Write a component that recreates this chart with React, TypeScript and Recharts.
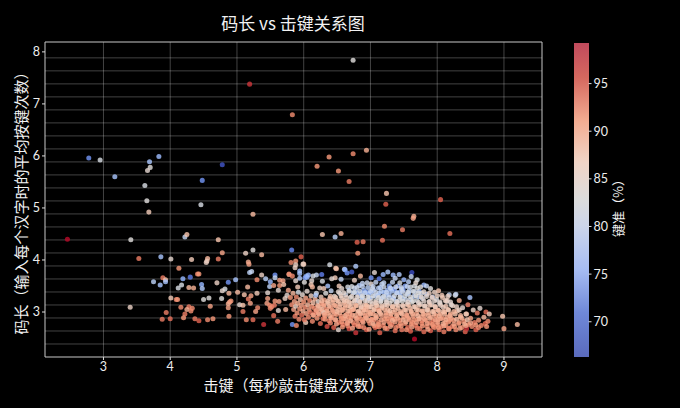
import { ScatterChart, Scatter, XAxis, YAxis, ZAxis, CartesianGrid, ReferenceArea, ReferenceLine, Cell, BarChart, Bar } from "recharts";

type Pt = [number, number, number]; // speed, code length, accuracy

const xTicks = [3, 4, 5, 6, 7, 8, 9];
const yTicks = [3, 4, 5, 6, 7, 8];
const hGrid = [2.385, 2.635, 2.885, 3.135, 3.385, 3.635, 3.885, 4.135, 4.385, 4.635, 4.885, 5.135, 5.385, 5.635, 5.885, 6.135, 6.385, 6.635, 6.885, 7.135, 7.385, 7.635, 7.885];
const accTicks = [70, 75, 80, 85, 90, 95];

const outliers: Pt[] = [
  [2.78, 5.96, 72], [2.95, 5.92, 82], [3.17, 5.6, 77], [3.83, 5.99, 76], [3.69, 5.89, 77], [3.7, 5.78, 83], [3.66, 5.72, 84], [3.62, 5.43, 82],
  [3.65, 5.14, 83], [3.68, 4.92, 86], [4.48, 5.53, 72], [4.46, 5.06, 82], [4.78, 5.83, 67], [5.19, 7.38, 97], [5.83, 6.79, 92], [5.24, 4.88, 88],
  [6.74, 7.84, 83], [6.94, 6.11, 89], [6.74, 6.04, 92], [6.38, 5.98, 91], [6.2, 5.8, 91], [6.52, 5.71, 91], [6.68, 5.51, 93], [7.24, 5.28, 87],
  [7.23, 5.07, 95], [8.05, 5.16, 95], [7.65, 4.84, 89], [7.64, 4.8, 90], [7.21, 4.65, 92], [7.48, 4.58, 93], [6.28, 4.49, 87], [6.56, 4.51, 89],
  [6.47, 4.44, 79], [6.8, 4.34, 95], [6.89, 4.35, 93], [7.18, 4.38, 94], [6.81, 4.13, 91], [8.19, 4.51, 94], [2.46, 4.4, 99], [3.41, 4.39, 83],
  [3.4, 3.09, 85],
];

const leftCloud: Pt[] = [
  [4.22, 4.44, 80], [4.25, 4.49, 87], [4.72, 4.39, 87], [3.53, 4.03, 93], [3.86, 4.06, 77], [4.01, 4.02, 84], [4.32, 4.01, 86], [4.13, 3.84, 91],
  [4.56, 4.03, 88], [4.55, 3.98, 86], [4.54, 3.95, 85], [4.72, 4.02, 93], [4.78, 4.14, 90], [5.13, 4.13, 85], [5.24, 4.19, 83], [5.37, 4.1, 88],
  [5.17, 3.96, 89], [5.18, 3.92, 90], [5.19, 3.76, 79], [5.22, 3.78, 80], [5.37, 3.71, 85], [3.89, 3.66, 93], [3.93, 3.62, 87], [3.75, 3.58, 79],
  [3.85, 3.52, 77], [3.93, 3.58, 77], [4.19, 3.64, 75], [4.3, 3.67, 70], [4.41, 3.73, 92], [4.43, 3.73, 91], [4.47, 3.53, 75], [4.48, 3.45, 78],
  [4.17, 3.52, 82], [4.12, 3.46, 82], [4.28, 3.47, 88], [4.35, 3.46, 89], [4.7, 3.56, 85], [4.87, 3.57, 72], [4.98, 3.62, 77], [4.82, 3.44, 82],
  [4.78, 3.41, 84], [4.88, 3.36, 88], [5.01, 3.38, 88], [4.01, 3.27, 86], [4.09, 3.24, 92], [4.11, 3.24, 91], [4.5, 3.24, 83], [4.58, 3.27, 83],
  [4.77, 3.26, 83], [4.16, 3.09, 92], [4.28, 3.1, 93], [4.33, 3.07, 92], [4.31, 3.02, 92], [4.25, 3.05, 89], [4.6, 3.11, 90], [4.87, 3.08, 90],
  [4.89, 3.19, 90], [4.87, 3.16, 89], [4.91, 3.21, 91], [5.04, 3.14, 84], [5.09, 3.13, 87], [3.94, 2.99, 93], [4.22, 2.96, 93], [4.2, 2.89, 91],
  [3.88, 2.86, 93], [4.0, 2.87, 94], [4.37, 2.87, 93], [4.43, 2.83, 95], [4.56, 2.85, 92], [4.64, 2.87, 91], [4.88, 2.92, 91], [5.09, 3.01, 93],
  [5.14, 2.85, 92], [5.24, 2.85, 94], [5.4, 2.76, 97], [5.55, 2.93, 94], [5.61, 2.82, 93], [5.62, 3.03, 84], [5.73, 3.05, 88], [5.31, 3.08, 92],
  [5.28, 3.01, 90], [5.2, 3.17, 90], [5.17, 3.25, 93], [5.21, 3.31, 90], [5.11, 3.33, 87], [5.16, 3.48, 88], [5.3, 3.62, 92], [5.3, 3.36, 86],
  [5.46, 3.37, 84], [5.46, 3.26, 90], [5.45, 3.17, 90], [5.49, 3.13, 92], [5.52, 3.1, 92], [5.56, 3.13, 93], [5.5, 3.07, 92], [5.43, 3.64, 79],
  [5.5, 3.58, 76], [5.49, 3.49, 79], [5.57, 3.71, 72], [5.57, 3.66, 80], [5.55, 3.51, 90], [5.62, 3.42, 84], [5.64, 3.61, 90], [5.69, 3.6, 90],
  [5.64, 3.51, 91], [5.7, 3.53, 87], [5.57, 3.21, 91], [5.63, 3.2, 90], [5.72, 3.26, 85], [5.75, 3.32, 84], [5.77, 3.42, 90], [5.78, 3.72, 88],
  [5.82, 4.19, 71], [5.96, 4.06, 95], [5.81, 3.95, 92], [5.88, 3.98, 91], [6.0, 3.92, 87], [5.87, 3.85, 85], [5.88, 3.91, 85], [5.94, 3.79, 77],
  [5.94, 3.74, 77], [5.78, 3.73, 92], [5.83, 3.69, 92], [5.99, 3.92, 85], [5.91, 3.48, 86], [5.83, 2.76, 72], [5.89, 2.74, 92], [6.03, 2.8, 86],
];

const coreLeft: Pt[] = [
  [5.8, 3.28, 91], [5.82, 3.14, 92], [5.84, 3.36, 88], [5.85, 3.05, 90], [5.86, 3.2, 90], [5.87, 2.92, 93], [5.88, 3.11, 85], [5.89, 3.29, 92],
  [5.9, 2.98, 91], [5.91, 3.17, 89], [5.92, 3.38, 82], [5.93, 2.86, 92], [5.94, 3.06, 91], [5.95, 3.24, 87], [5.96, 3.13, 90], [5.97, 2.94, 94],
  [5.98, 3.33, 84], [5.99, 3.02, 89], [6.0, 3.19, 91], [6.01, 2.85, 93], [6.02, 3.09, 92], [6.03, 3.27, 90], [6.04, 2.97, 90], [6.05, 3.4, 84],
  [6.06, 3.14, 88], [6.07, 2.9, 92], [6.08, 3.05, 90], [6.09, 3.22, 92], [6.1, 2.99, 93], [6.11, 3.31, 85], [6.12, 3.11, 91], [6.13, 2.82, 92],
  [6.14, 3.18, 87], [6.15, 2.94, 90], [6.16, 3.07, 92], [6.17, 3.25, 88], [6.18, 3.0, 94], [6.19, 3.36, 82], [6.2, 2.88, 91], [6.21, 3.13, 90],
  [6.22, 3.2, 84], [6.23, 2.95, 92], [6.24, 3.06, 89], [6.25, 2.78, 94], [6.26, 3.29, 86], [6.27, 3.16, 91], [6.28, 3.01, 92], [6.29, 2.87, 93],
  [6.3, 3.11, 88], [6.31, 3.23, 90], [6.32, 2.93, 91], [6.33, 3.36, 83], [6.34, 3.05, 92], [6.35, 2.72, 96], [6.36, 3.17, 87], [6.37, 2.98, 90],
  [6.38, 2.83, 93], [6.39, 3.26, 86], [6.4, 3.09, 92], [6.41, 3.41, 80], [6.42, 2.9, 92], [6.43, 3.18, 88], [6.44, 3.01, 90], [6.45, 2.7, 95],
  [6.46, 3.3, 84], [6.47, 2.85, 93], [6.48, 3.12, 90], [6.49, 2.95, 91], [6.5, 3.22, 87], [6.51, 3.05, 88], [6.52, 2.66, 84], [6.53, 2.8, 94],
  [6.54, 3.36, 82], [6.55, 3.15, 87], [6.56, 2.92, 92], [6.57, 3.27, 85], [6.58, 3.03, 89], [6.59, 2.76, 94], [6.6, 2.87, 91], [6.61, 3.19, 88],
];

const coreMid: Pt[] = [
  [6.62, 3.08, 89], [6.63, 3.33, 81], [6.64, 2.95, 92], [6.65, 3.21, 87], [6.66, 2.8, 93], [6.67, 3.12, 88], [6.68, 2.68, 96], [6.69, 3.02, 90],
  [6.7, 3.28, 83], [6.71, 2.88, 92], [6.72, 3.17, 86], [6.73, 2.94, 90], [6.74, 3.37, 79], [6.75, 3.06, 88], [6.76, 2.75, 94], [6.77, 3.23, 84],
  [6.78, 2.6, 97], [6.79, 3.12, 87], [6.8, 2.85, 91], [6.81, 3.0, 89], [6.82, 3.31, 80], [6.83, 2.92, 92], [6.84, 3.18, 85], [6.85, 2.72, 93],
  [6.86, 3.08, 88], [6.87, 3.26, 82], [6.88, 2.82, 93], [6.89, 2.98, 89], [6.9, 3.42, 75], [6.91, 3.14, 86], [6.92, 2.88, 91], [6.93, 3.04, 88],
  [6.94, 2.66, 95], [6.95, 3.21, 84], [6.96, 2.94, 90], [6.97, 3.34, 78], [6.98, 3.1, 86], [6.99, 2.78, 92], [7.0, 3.0, 89], [7.01, 3.27, 82],
  [7.02, 2.86, 92], [7.03, 3.16, 85], [7.04, 2.96, 90], [7.05, 3.42, 76], [7.06, 3.06, 88], [7.07, 2.7, 94], [7.08, 3.22, 83], [7.09, 2.9, 91],
  [7.1, 3.12, 86], [7.11, 3.32, 79], [7.12, 2.8, 92], [7.13, 3.02, 88], [7.14, 2.6, 95], [7.15, 3.19, 84], [7.16, 2.94, 90], [7.17, 3.08, 87],
  [7.18, 3.28, 80], [7.19, 2.74, 93], [7.2, 3.38, 75], [7.21, 2.87, 91], [7.22, 3.14, 85], [7.23, 2.98, 89], [7.24, 3.23, 82], [7.25, 2.68, 94],
  [7.26, 3.05, 88], [7.27, 2.82, 92], [7.28, 3.33, 78], [7.29, 3.17, 84], [7.3, 2.92, 90], [7.31, 3.44, 74], [7.32, 2.76, 93], [7.33, 3.1, 86],
  [7.34, 3.0, 89], [7.35, 3.26, 81], [7.36, 2.86, 91], [7.37, 2.64, 94], [7.38, 3.15, 85], [7.39, 3.37, 77], [6.9, 3.06, 90], [7.05, 2.84, 93],
  [6.67, 2.9, 91], [6.72, 3.04, 90], [6.84, 2.99, 90], [6.95, 3.1, 88], [7.12, 3.04, 90], [7.27, 2.98, 90], [7.1, 2.72, 93], [7.32, 2.88, 92],
];

const coreRight: Pt[] = [
  [7.4, 2.96, 90], [7.41, 3.07, 87], [7.42, 2.73, 93], [7.43, 3.22, 82], [7.44, 2.84, 92], [7.45, 3.31, 78], [7.46, 2.98, 89], [7.47, 2.66, 93],
  [7.48, 3.13, 85], [7.49, 3.42, 73], [7.5, 2.9, 91], [7.51, 3.04, 88], [7.52, 2.78, 92], [7.53, 3.24, 81], [7.54, 2.95, 90], [7.55, 3.15, 85],
  [7.56, 2.7, 94], [7.57, 3.36, 76], [7.58, 2.85, 91], [7.59, 3.07, 87], [7.6, 2.63, 95], [7.61, 3.0, 89], [7.62, 3.19, 83], [7.63, 2.8, 92],
  [7.64, 2.92, 90], [7.65, 3.3, 78], [7.66, 2.48, 99], [7.67, 3.1, 86], [7.68, 2.74, 93], [7.69, 2.97, 90], [7.7, 3.22, 82], [7.71, 2.86, 92],
  [7.72, 3.04, 88], [7.73, 3.4, 75], [7.74, 2.68, 93], [7.75, 3.15, 84], [7.76, 2.91, 90], [7.77, 2.78, 92], [7.78, 3.26, 80], [7.79, 3.02, 88],
  [7.8, 2.62, 94], [7.81, 2.94, 90], [7.82, 3.12, 85], [7.83, 2.84, 91], [7.84, 3.34, 77], [7.85, 2.72, 92], [7.86, 3.05, 87], [7.87, 2.98, 89],
  [7.88, 3.2, 82], [7.89, 2.79, 92], [7.9, 2.64, 95], [7.91, 2.9, 90], [7.92, 3.14, 84], [7.93, 3.29, 79], [7.94, 2.82, 93], [7.95, 3.01, 88],
  [7.96, 2.7, 92], [7.97, 3.1, 85], [7.98, 2.93, 91], [7.99, 3.24, 82], [8.0, 2.76, 92], [8.01, 2.85, 90], [8.02, 3.03, 86], [8.03, 2.66, 94],
  [8.04, 3.17, 83], [8.05, 2.96, 89], [8.06, 2.72, 93], [8.07, 3.32, 86], [8.08, 2.88, 91], [8.09, 3.09, 85], [8.1, 2.62, 93], [8.11, 3.0, 89],
  [8.12, 2.8, 92], [8.13, 2.74, 91], [8.14, 3.2, 84], [8.15, 2.9, 90], [8.16, 3.05, 87], [8.17, 2.68, 93], [8.18, 3.33, 80], [8.19, 2.84, 92],
  [7.52, 3.5, 74], [7.6, 3.48, 82], [7.7, 3.46, 83], [7.62, 3.76, 66], [7.8, 3.52, 76], [7.84, 3.5, 80], [7.9, 3.45, 83], [8.02, 3.41, 87],
];

const tail: Pt[] = [
  [8.2, 2.96, 89], [8.22, 2.72, 93], [8.23, 3.12, 85], [8.25, 2.84, 91], [8.27, 3.32, 83], [8.28, 2.66, 92], [8.3, 3.02, 87], [8.32, 2.78, 91],
  [8.33, 3.22, 89], [8.35, 2.9, 90], [8.37, 2.7, 92], [8.38, 3.08, 84], [8.4, 2.82, 92], [8.42, 2.62, 95], [8.44, 2.96, 88], [8.46, 3.14, 93],
  [8.47, 2.76, 92], [8.49, 3.28, 77], [8.5, 2.88, 90], [8.52, 2.72, 92], [8.54, 3.04, 85], [8.56, 2.8, 93], [8.58, 2.66, 95], [8.6, 2.98, 93],
  [8.62, 2.84, 91], [8.64, 3.07, 84], [8.66, 2.74, 92], [8.7, 2.9, 88], [8.72, 2.78, 94], [8.73, 3.0, 94], [8.76, 2.82, 92], [8.78, 2.96, 86],
  [8.98, 2.92, 87], [9.0, 2.68, 90], [9.2, 2.76, 88], [8.15, 3.22, 85], [8.28, 3.34, 80], [8.44, 2.68, 97], [8.62, 2.7, 92], [8.74, 2.72, 91],
];

const upperBand: Pt[] = [
  [6.39, 3.91, 82], [6.49, 3.83, 88], [6.48, 3.84, 87], [6.78, 3.88, 78], [6.61, 3.82, 80], [6.62, 3.81, 75], [6.72, 3.77, 68], [6.65, 3.75, 72],
  [6.27, 3.72, 70], [6.19, 3.71, 80], [6.14, 3.69, 82], [6.04, 3.69, 75], [6.02, 3.66, 73], [6.05, 3.67, 75], [6.07, 3.71, 76], [5.94, 3.65, 78],
  [5.88, 3.6, 84], [6.01, 3.57, 83], [7.06, 3.76, 84], [6.85, 3.69, 88], [6.47, 3.66, 86], [6.42, 3.64, 84], [6.56, 3.63, 80], [6.76, 3.61, 85],
  [7.01, 3.66, 72], [7.13, 3.64, 70], [7.01, 3.54, 84], [6.88, 3.55, 80], [6.83, 3.51, 78], [6.28, 3.59, 82], [6.12, 3.6, 84], [6.11, 3.53, 86],
  [6.13, 3.48, 88], [6.36, 3.5, 77], [6.24, 3.46, 85], [6.3, 3.45, 86], [6.53, 3.5, 86], [6.57, 3.45, 84], [6.66, 3.48, 82], [6.76, 3.46, 80],
  [6.68, 3.42, 78], [6.94, 3.38, 73], [7.01, 3.38, 75], [7.03, 3.45, 82], [6.79, 3.38, 76], [6.86, 3.35, 76], [7.19, 3.72, 76], [7.26, 3.77, 78],
  [7.34, 3.71, 76], [7.37, 3.65, 80], [7.43, 3.72, 78], [7.5, 3.62, 76], [7.61, 3.68, 80], [7.7, 3.62, 82], [7.2, 3.56, 80], [7.28, 3.5, 74],
  [7.15, 3.47, 76], [7.36, 3.44, 73], [7.25, 3.42, 76], [7.41, 3.5, 74], [7.47, 3.44, 78], [7.13, 3.36, 78], [7.44, 3.38, 76], [7.58, 3.41, 79],
  [7.66, 3.39, 80], [7.55, 3.34, 78], [7.77, 3.36, 81], [7.72, 3.3, 78], [7.34, 3.28, 76], [7.07, 3.31, 78], [6.98, 3.26, 77], [7.16, 3.25, 78],
  [6.88, 3.28, 79], [7.24, 3.32, 78], [7.48, 3.26, 79], [7.6, 3.24, 80], [6.8, 3.22, 80], [7.39, 3.2, 80], [6.3, 2.99, 85], [6.18, 3.32, 78],
];

// second pass over the dense blob, read row by row
const rowLow: Pt[] = [
  [6.58, 2.71, 91], [6.66, 2.73, 92], [6.73, 2.69, 90], [6.82, 2.72, 91], [6.9, 2.7, 92], [6.98, 2.67, 90], [7.05, 2.74, 91], [7.13, 2.71, 92],
  [7.22, 2.69, 91], [7.3, 2.72, 90], [7.38, 2.7, 92], [7.46, 2.73, 91], [7.54, 2.66, 92], [7.62, 2.71, 90], [7.7, 2.69, 93], [7.78, 2.73, 91],
  [7.86, 2.67, 90], [7.94, 2.72, 92], [8.02, 2.7, 91], [8.1, 2.73, 90], [8.18, 2.68, 92], [8.26, 2.72, 91], [8.34, 2.69, 90], [8.43, 2.74, 90],
  [6.4, 2.79, 92], [6.49, 2.77, 90], [6.57, 2.81, 91], [6.65, 2.78, 90], [6.74, 2.8, 92], [6.81, 2.77, 91], [6.89, 2.8, 90], [6.97, 2.83, 91],
  [7.04, 2.78, 89], [7.12, 2.76, 91], [7.2, 2.8, 90], [7.29, 2.78, 92], [7.37, 2.81, 90], [7.45, 2.78, 91], [7.53, 2.81, 89], [7.61, 2.77, 91],
  [7.69, 2.8, 90], [7.77, 2.83, 92], [7.85, 2.78, 90], [7.93, 2.76, 91], [8.01, 2.8, 90], [8.09, 2.78, 89], [8.17, 2.81, 91], [8.25, 2.77, 90],
  [8.33, 2.8, 91], [8.41, 2.77, 89], [8.5, 2.79, 90], [8.58, 2.75, 91], [6.32, 2.86, 91], [6.41, 2.88, 90], [6.48, 2.85, 89], [6.56, 2.88, 91],
  [6.63, 2.86, 90], [6.7, 2.83, 89], [6.79, 2.88, 90], [6.86, 2.86, 91], [6.94, 2.88, 89], [7.01, 2.85, 90], [7.08, 2.88, 89], [7.16, 2.85, 90],
  [7.25, 2.87, 91], [7.33, 2.84, 89], [7.41, 2.88, 90], [7.49, 2.85, 89], [7.57, 2.88, 90], [7.65, 2.85, 91], [7.73, 2.87, 89], [7.81, 2.86, 90],
  [7.89, 2.88, 89], [7.97, 2.85, 90], [8.05, 2.87, 90], [8.13, 2.85, 89], [8.21, 2.88, 90], [8.29, 2.86, 88], [8.37, 2.88, 89], [8.45, 2.85, 87],
];

const rowMid: Pt[] = [
  [6.14, 2.94, 90], [6.22, 2.97, 89], [6.31, 2.95, 90], [6.39, 2.93, 89], [6.46, 2.96, 90], [6.54, 2.98, 89], [6.62, 2.93, 89], [6.69, 2.96, 90],
  [6.77, 2.93, 89], [6.85, 2.96, 88], [6.92, 2.93, 90], [7.0, 2.96, 89], [7.08, 2.93, 89], [7.15, 2.97, 88], [7.23, 2.93, 90], [7.31, 2.96, 89],
  [7.39, 2.93, 89], [7.47, 2.96, 88], [7.55, 2.93, 90], [7.63, 2.96, 89], [7.71, 2.93, 88], [7.79, 2.96, 89], [7.87, 2.93, 89], [7.95, 2.96, 88],
  [8.03, 2.93, 89], [8.11, 2.96, 88], [8.19, 2.93, 89], [8.27, 2.96, 87], [8.35, 2.93, 88], [8.43, 2.96, 86], [6.19, 3.03, 90], [6.27, 3.05, 88],
  [6.35, 3.02, 89], [6.43, 3.04, 90], [6.5, 3.01, 88], [6.58, 3.05, 89], [6.66, 3.02, 88], [6.74, 3.05, 89], [6.82, 3.02, 87], [6.9, 3.04, 88],
  [6.97, 3.01, 89], [7.05, 3.04, 87], [7.13, 3.01, 88], [7.21, 3.05, 88], [7.29, 3.02, 87], [7.37, 3.04, 88], [7.45, 3.01, 88], [7.53, 3.04, 87],
  [7.61, 3.02, 88], [7.69, 3.05, 87], [7.77, 3.02, 88], [7.85, 3.04, 86], [7.93, 3.01, 87], [8.01, 3.04, 88], [8.09, 3.01, 87], [8.17, 3.04, 86],
  [8.25, 3.01, 88], [8.33, 3.04, 85], [6.22, 3.11, 88], [6.3, 3.14, 90], [6.38, 3.11, 88], [6.46, 3.13, 89], [6.54, 3.1, 88], [6.62, 3.13, 88],
  [6.7, 3.1, 87], [6.78, 3.13, 88], [6.86, 3.1, 86], [6.94, 3.13, 87], [7.01, 3.1, 86], [7.09, 3.13, 87], [7.17, 3.11, 86], [7.25, 3.13, 86],
  [7.33, 3.1, 87], [7.41, 3.13, 86], [7.49, 3.11, 86], [7.57, 3.13, 87], [7.65, 3.1, 86], [7.73, 3.13, 86], [7.81, 3.11, 85], [7.89, 3.13, 86],
  [7.97, 3.1, 86], [8.05, 3.13, 85], [8.13, 3.11, 86], [8.21, 3.14, 84], [8.29, 3.1, 85], [6.27, 3.21, 88], [6.36, 3.2, 87], [6.44, 3.23, 88],
  [6.52, 3.2, 87], [6.6, 3.22, 86], [6.68, 3.19, 86], [6.76, 3.21, 85], [6.84, 3.2, 85], [6.92, 3.22, 84], [7.0, 3.2, 84], [7.08, 3.18, 85],
  [7.16, 3.21, 83], [7.24, 3.19, 84], [7.32, 3.22, 83], [7.4, 3.19, 84], [7.48, 3.21, 83], [7.56, 3.19, 84], [7.64, 3.21, 83], [7.72, 3.18, 84],
  [7.8, 3.21, 84], [7.88, 3.19, 85], [7.96, 3.21, 84], [8.04, 3.19, 84], [8.12, 3.22, 85], [8.2, 3.19, 84],
];

const rowHigh: Pt[] = [
  [6.4, 3.3, 87], [6.48, 3.28, 86], [6.56, 3.31, 85], [6.64, 3.28, 85], [6.72, 3.3, 84], [6.8, 3.29, 84], [6.88, 3.31, 83], [6.96, 3.29, 83],
  [7.04, 3.31, 82], [7.12, 3.28, 83], [7.2, 3.3, 82], [7.28, 3.28, 81], [7.36, 3.31, 82], [7.44, 3.29, 83], [7.52, 3.31, 82], [7.6, 3.29, 83],
  [7.68, 3.31, 83], [7.76, 3.29, 84], [7.84, 3.3, 84], [7.92, 3.28, 85], [8.0, 3.31, 85], [8.08, 3.28, 86], [8.16, 3.3, 85], [6.52, 3.39, 84],
  [6.6, 3.37, 84], [6.68, 3.4, 83], [6.76, 3.38, 82], [6.84, 3.4, 81], [6.92, 3.37, 80], [7.0, 3.4, 80], [7.08, 3.38, 81], [7.16, 3.4, 79],
  [7.24, 3.38, 80], [7.32, 3.4, 78], [7.4, 3.37, 80], [7.48, 3.39, 81], [7.56, 3.38, 82], [7.64, 3.4, 82], [7.72, 3.37, 83], [7.8, 3.39, 84],
  [7.88, 3.36, 85], [7.96, 3.38, 85], [6.72, 3.49, 82], [6.8, 3.47, 81], [6.88, 3.49, 80], [6.96, 3.47, 79], [7.04, 3.49, 80], [7.12, 3.46, 79],
  [7.2, 3.48, 81], [7.3, 3.46, 80], [7.38, 3.48, 81], [7.46, 3.47, 81], [7.55, 3.49, 80], [7.66, 3.5, 82], [7.75, 3.48, 83], [6.95, 3.56, 81],
  [7.08, 3.57, 80], [7.17, 3.54, 80], [7.33, 3.57, 80], [7.44, 3.56, 82], [7.57, 3.58, 79], [7.68, 3.56, 84],
];

const accMin = 66.3;
const accMax = 99.26;
const points = [...outliers, ...leftCloud, ...coreLeft, ...coreMid, ...coreRight, ...tail, ...upperBand, ...rowLow, ...rowMid, ...rowHigh].map(([speed, codeLength, acc]) => ({ speed, codeLength, acc }));

const coolwarm = [[59, 76, 192], [98, 130, 234], [141, 176, 254], [184, 208, 249], [221, 221, 221], [245, 196, 173], [244, 152, 122], [222, 96, 77], [180, 4, 38]];

function accColor(acc: number) {
  const t = Math.min(0.999, Math.max(0, (acc - accMin) / (accMax - accMin))) * (coolwarm.length - 1);
  const i = Math.floor(t);
  const f = t - i;
  const c = coolwarm[i].map((v, k) => Math.round(v + (coolwarm[i + 1][k] - v) * f));
  return `rgb(${c[0]},${c[1]},${c[2]})`;
}

const barStops = [
  ["0%", "#c04a5c"], ["11%", "#d5685f"], ["25%", "#f3ad92"], ["38%", "#f0d4c6"], ["50%", "#dcdcdc"], ["58%", "#cdd6ea"],
  ["72%", "#a7bdf3"], ["86%", "#6f88d8"], ["100%", "#5a6bbd"],
];

const font = "'Noto Sans CJK SC', sans-serif";
const tickStyle = { fill: "#eeeeee", fontSize: 12.5, fontFamily: "Lato, sans-serif" };

export default function App() {
  return (
    <div style={{ position: "absolute", left: 0, top: 0, width: 680, height: 408, background: "#000", overflow: "hidden" }}>
      <div style={{ position: "absolute", left: 0, width: 586, top: 12, textAlign: "center", color: "#f2f2f2", fontFamily: font, fontSize: 17, lineHeight: "22px" }}>
        码长 vs 击键关系图
      </div>
      <ScatterChart width={680} height={408} margin={{ top: 42, right: 138, bottom: 0, left: 0 }} style={{ position: "absolute", left: 0, top: 0 }}>
        <CartesianGrid horizontal={false} stroke="#ffffff" strokeOpacity={0.26} strokeWidth={1} verticalValues={xTicks} />
        {hGrid.map((v) => (
          <ReferenceLine key={v} y={v} stroke="#ffffff" strokeOpacity={0.26} strokeWidth={1} />
        ))}
        <XAxis
          type="number"
          dataKey="speed"
          domain={[2.124, 9.57]}
          ticks={xTicks}
          allowDataOverflow
          axisLine={false}
          height={51}
          tickSize={3}
          tickLine={{ stroke: "#dddddd" }}
          tick={tickStyle}
          label={{ value: "击键（每秒敲击键盘次数）", position: "insideBottom", offset: 17, fill: "#f2f2f2", fontSize: 15, fontFamily: font }}
        />
        <YAxis
          type="number"
          dataKey="codeLength"
          domain={[2.135, 8.19]}
          ticks={yTicks}
          allowDataOverflow
          axisLine={false}
          width={45}
          tickSize={3}
          tickLine={{ stroke: "#dddddd" }}
          tick={tickStyle}
          label={{ value: "码长（输入每个汉字时的平均按键次数）", angle: -90, position: "insideLeft", offset: 22, textAnchor: "middle", fill: "#f2f2f2", fontSize: 15, fontFamily: font }}
        />
        <ZAxis dataKey="acc" range={[20, 20]} />
        <Scatter data={points} isAnimationActive={false} fillOpacity={0.82}>
          {points.map((p, i) => (
            <Cell key={i} fill={accColor(p.acc)} />
          ))}
        </Scatter>
        <ReferenceArea x1={2.124} x2={9.57} y1={2.135} y2={8.19} fill="none" stroke="#c8c8c8" strokeWidth={1} ifOverflow="visible" />
      </ScatterChart>
      <BarChart
        width={106}
        height={408}
        data={[{ name: "acc", span: [accMin, accMax] }]}
        margin={{ top: 43, right: 41.5, bottom: 51, left: 0 }}
        barCategoryGap={0}
        style={{ position: "absolute", left: 574, top: 0 }}
      >
        <defs>
          <linearGradient id="accGrad" x1="0" y1="0" x2="0" y2="1">
            {barStops.map(([o, c]) => (
              <stop key={o} offset={o} stopColor={c} />
            ))}
          </linearGradient>
        </defs>
        <XAxis dataKey="name" hide />
        <YAxis
          orientation="right"
          type="number"
          domain={[accMin, accMax]}
          ticks={accTicks}
          axisLine={false}
          width={50}
          tickSize={3}
          tickLine={{ stroke: "#dddddd" }}
          tick={tickStyle}
          label={{ value: "键准（%）", angle: -90, position: "insideRight", offset: 20, dy: 5, textAnchor: "middle", fill: "#f2f2f2", fontSize: 13, fontFamily: font }}
        />
        <Bar dataKey="span" fill="url(#accGrad)" isAnimationActive={false} />
      </BarChart>
    </div>
  );
}
